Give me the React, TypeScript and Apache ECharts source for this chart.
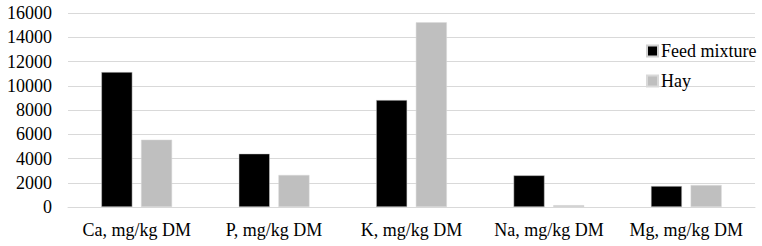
import React, { useEffect, useRef } from "react";
import * as echarts from "echarts";

const categories = ["Ca, mg/kg DM", "P, mg/kg DM", "K, mg/kg DM", "Na, mg/kg DM", "Mg, mg/kg DM"];
const feedMixture = [11130, 4400, 8820, 2610, 1730];
const hay = [5550, 2640, 15230, 150, 1810];
const seriesNames = ["Feed mixture", "Hay"];

export default function App() {
  const ref = useRef<HTMLDivElement>(null);
  useEffect(() => {
    if (!ref.current) return;
    const chart = echarts.init(ref.current, null, { renderer: "svg" });
    const font = "Liberation Serif";
    chart.setOption({
      animation: false,
      textStyle: { fontFamily: font },
      grid: { left: 68, right: 7, top: 13, bottom: 39, containLabel: false },
      legend: {
        orient: "vertical",
        left: 641,
        top: 37,
        itemWidth: 11,
        itemHeight: 11,
        itemGap: 12,
        icon: "rect",
        textStyle: { fontFamily: font, fontSize: 18, color: "#000", padding: [0, 0, 0, -2] },
        data: seriesNames,
      },
      xAxis: {
        type: "category",
        data: categories,
        axisLine: { show: true, lineStyle: { color: "#d9d9d9", width: 1 } },
        axisTick: { show: false },
        axisLabel: { fontFamily: font, fontSize: 18, color: "#000", margin: 14, interval: 0 },
      },
      yAxis: {
        type: "value",
        min: 0,
        max: 16000,
        interval: 2000,
        axisLine: { show: false },
        axisTick: { show: false },
        splitLine: { lineStyle: { color: "#d9d9d9", width: 1 } },
        axisLabel: {
          fontFamily: font,
          fontSize: 18,
          color: "#000",
          margin: 16,
          formatter: (v: number) => String(v),
        },
      },
      series: [
        {
          name: seriesNames[0],
          type: "bar",
          data: feedMixture,
          barWidth: 31,
          barGap: "28%",
          itemStyle: { color: "#000000", borderColor: "#d0d0d0", borderWidth: 0.5 },
        },
        {
          name: seriesNames[1],
          type: "bar",
          data: hay,
          barWidth: 31,
          itemStyle: { color: "#bfbfbf", borderColor: "#d9d9d9", borderWidth: 0.5 },
        },
      ],
    });
    return () => chart.dispose();
  }, []);
  return <div ref={ref} style={{ width: 762, height: 246, position: "absolute", left: 0, top: 0 }} />;
}
